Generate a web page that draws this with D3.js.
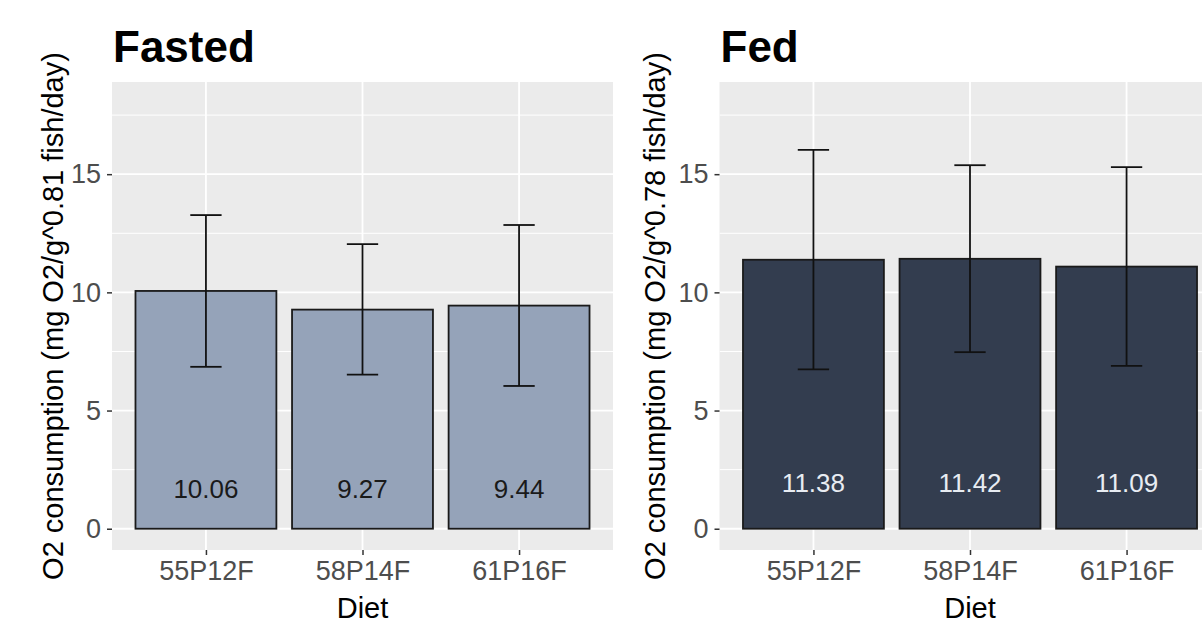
<!DOCTYPE html>
<html>
<head>
<meta charset="utf-8">
<script src="https://cdn.jsdelivr.net/npm/d3@7"></script>
<style>
  html, body { margin: 0; padding: 0; background: #fff; }
  svg { display: block; font-family: "Liberation Sans", Arial, sans-serif; }
</style>
</head>
<body>
<div id="chart"></div>
<script>
// data
const diets = ["55P12F", "58P14F", "61P16F"];
const fastedMean = [10.06, 9.27, 9.44];
const fastedLow = [6.85, 6.52, 6.04];
const fastedHigh = [13.27, 12.04, 12.85];
const fedMean = [11.38, 11.42, 11.09];
const fedLow = [6.74, 7.47, 6.89];
const fedHigh = [16.03, 15.38, 15.30];
const yTicks = [0, 5, 10, 15];
const yMinor = [2.5, 7.5, 12.5, 17.5];

const W = 1202, H = 624;
const svg = d3.select("#chart").append("svg")
  .attr("width", W).attr("height", H)
  .attr("viewBox", `0 0 ${W} ${H}`);

const panels = [
  { title: "Fasted", left: 112, mean: fastedMean, low: fastedLow, high: fastedHigh,
    fill: "#95a3b9", labelColor: "#1a1a1a", labelY: 1.7, ytitleX: 63,
    ylab: "O2 consumption (mg O2/g^0.81 fish/day)" },
  { title: "Fed", left: 719.5, mean: fedMean, low: fedLow, high: fedHigh,
    fill: "#333d4f", labelColor: "#e8ecf2", labelY: 1.95, ytitleX: 665,
    ylab: "O2 consumption (mg O2/g^0.78 fish/day)" }
];

const panelTop = 82, panelBottom = 550, panelW = 501;

const y = d3.scaleLinear().domain([-0.9, 18.9]).range([panelBottom, panelTop]);

panels.forEach((p, pi) => {
  const x = d3.scalePoint().domain(diets).range([p.left, p.left + panelW]).padding(0.6);
  const step = x.step();
  const barW = step * 0.9;
  const capW = step * 0.2;
  const rows = diets.map((d, i) => ({ diet: d, mean: p.mean[i], low: p.low[i], high: p.high[i] }));

  const g = svg.append("g");
  const clipId = "clip" + pi;
  svg.append("clipPath").attr("id", clipId)
    .append("rect").attr("x", p.left).attr("y", panelTop).attr("width", panelW).attr("height", panelBottom - panelTop);

  // panel background
  g.append("rect")
    .attr("x", p.left).attr("y", panelTop)
    .attr("width", panelW).attr("height", panelBottom - panelTop)
    .attr("fill", "#ebebeb");

  const grid = g.append("g").attr("clip-path", `url(#${clipId})`);
  grid.selectAll("line.minor").data(yMinor).join("line")
    .attr("x1", p.left).attr("x2", p.left + panelW)
    .attr("y1", d => y(d)).attr("y2", d => y(d))
    .attr("stroke", "#fff").attr("stroke-width", 1);
  grid.selectAll("line.majory").data(yTicks).join("line")
    .attr("x1", p.left).attr("x2", p.left + panelW)
    .attr("y1", d => y(d)).attr("y2", d => y(d))
    .attr("stroke", "#fff").attr("stroke-width", 1.8);
  grid.selectAll("line.majorx").data(diets).join("line")
    .attr("x1", d => x(d)).attr("x2", d => x(d))
    .attr("y1", panelTop).attr("y2", panelBottom)
    .attr("stroke", "#fff").attr("stroke-width", 1.8);

  // bars
  g.selectAll("rect.bar").data(rows).join("rect")
    .attr("x", d => x(d.diet) - barW / 2)
    .attr("y", d => y(d.mean))
    .attr("width", barW)
    .attr("height", d => y(0) - y(d.mean))
    .attr("fill", p.fill)
    .attr("stroke", "#1a1a1a").attr("stroke-width", 1.8);

  // error bars
  const eb = g.selectAll("g.eb").data(rows).join("g")
    .attr("stroke", "#111").attr("stroke-width", 1.8).attr("fill", "none");
  eb.append("line")
    .attr("x1", d => x(d.diet)).attr("x2", d => x(d.diet))
    .attr("y1", d => y(d.low)).attr("y2", d => y(d.high));
  eb.append("line")
    .attr("x1", d => x(d.diet) - capW / 2).attr("x2", d => x(d.diet) + capW / 2)
    .attr("y1", d => y(d.high)).attr("y2", d => y(d.high));
  eb.append("line")
    .attr("x1", d => x(d.diet) - capW / 2).attr("x2", d => x(d.diet) + capW / 2)
    .attr("y1", d => y(d.low)).attr("y2", d => y(d.low));

  // value labels
  g.selectAll("text.val").data(rows).join("text")
    .attr("x", d => x(d.diet))
    .attr("y", y(p.labelY))
    .attr("text-anchor", "middle")
    .attr("dominant-baseline", "central")
    .attr("font-size", 26)
    .attr("fill", p.labelColor)
    .text(d => d.mean.toFixed(2));

  // axes
  const yAxis = g.append("g")
    .attr("transform", `translate(${p.left},0)`)
    .call(d3.axisLeft(y).tickValues(yTicks).tickSize(5).tickPadding(6).tickFormat(d3.format("d")));
  yAxis.select(".domain").remove();
  yAxis.selectAll(".tick line").attr("stroke", "#333").attr("stroke-width", 1.5);
  yAxis.selectAll(".tick text").attr("font-size", 27).attr("fill", "#4d4d4d")
    .attr("font-family", "Liberation Sans, Arial, sans-serif");

  const xAxis = g.append("g")
    .attr("transform", `translate(0,${panelBottom})`)
    .call(d3.axisBottom(x).tickSize(5).tickPadding(6));
  xAxis.select(".domain").remove();
  xAxis.selectAll(".tick line").attr("stroke", "#333").attr("stroke-width", 1.5);
  xAxis.selectAll(".tick text").attr("font-size", 27).attr("fill", "#4d4d4d")
    .attr("font-family", "Liberation Sans, Arial, sans-serif");

  // titles
  g.append("text")
    .attr("x", p.left + 1).attr("y", 62)
    .attr("font-size", 44).attr("font-weight", "bold").attr("fill", "#000")
    .text(p.title);

  g.append("text")
    .attr("x", p.left + panelW / 2).attr("y", 618)
    .attr("text-anchor", "middle")
    .attr("font-size", 29).attr("fill", "#000")
    .text("Diet");

  g.append("text")
    .attr("transform", `translate(${p.ytitleX},${(panelTop + panelBottom) / 2}) rotate(-90)`)
    .attr("text-anchor", "middle")
    .attr("font-size", 29).attr("fill", "#000")
    .text(p.ylab);
});
</script>
</body>
</html>
